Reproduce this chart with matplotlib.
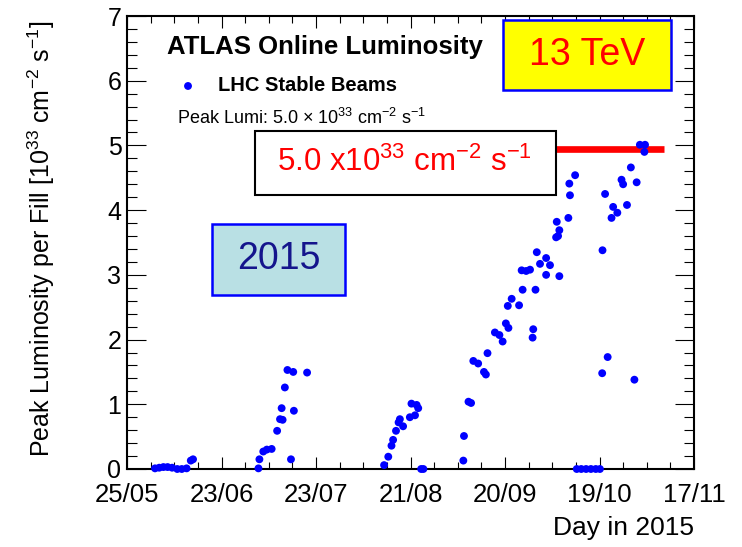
import matplotlib
matplotlib.use("Agg")
import matplotlib.pyplot as plt
from matplotlib.patches import Rectangle
import numpy as np

# days since 25/05/2015 and peak luminosity of each fill [10^33 cm^-2 s^-1]
fill_day = [8.7, 10.0, 11.3, 12.6, 14.0, 15.6, 17.0, 18.5, 19.8, 20.5,
            40.8, 41.1, 42.3, 43.4, 44.9, 46.6, 47.5, 48.3, 48.0, 49.0,
            49.8, 50.9, 51.6, 51.8, 55.9,
            79.8, 81.1, 82.1, 82.6, 83.5, 84.3, 84.7, 85.7, 87.8, 88.3,
            89.4, 89.9, 90.4, 91.3, 92.0,
            104.4, 104.6, 106.0, 106.8, 107.5, 109.0, 110.8, 111.4, 111.9, 114.2,
            115.6, 116.6, 117.6, 118.4, 118.2, 119.4, 121.7, 122.8, 122.5, 123.9,
            125.1, 125.9, 126.1, 126.8, 127.2, 128.2, 130.1, 130.1, 131.3, 133.2,
            133.4, 134.2, 133.8, 134.2, 137.0, 137.3, 137.5, 139.1,
            139.6, 141.0, 142.5, 144.0, 145.5, 146.8,
            147.5, 147.6, 148.4, 149.2, 150.4, 150.9, 152.2, 153.5, 154.0, 155.2,
            156.4, 157.5, 158.2, 159.2, 160.6, 160.8]
peak_lumi = [0.01, 0.02, 0.03, 0.03, 0.02, 0.0, 0.0, 0.01, 0.13, 0.15,
             0.01, 0.15, 0.27, 0.30, 0.31, 0.59, 0.77, 0.76, 0.94, 1.26,
             1.53, 0.15, 1.50, 0.90, 1.49,
             0.06, 0.19, 0.36, 0.45, 0.59, 0.72, 0.77, 0.66, 0.80, 1.01,
             0.83, 0.99, 0.94, 0.0, 0.0,
             0.13, 0.51, 1.04, 1.02, 1.67, 1.63, 1.50, 1.46, 1.79, 2.11,
             2.07, 1.97, 2.25, 2.18, 2.52, 2.63, 2.53, 2.77, 3.07, 3.06,
             3.08, 2.03, 2.16, 2.77, 3.35, 3.17, 3.26, 3.00, 3.15, 3.58,
             3.82, 3.69, 3.60, 2.98, 3.88, 4.41, 4.23, 4.54,
             0.0, 0.0, 0.0, 0.0, 0.0, 0.0,
             1.48, 3.38, 4.25, 1.73, 3.88, 4.05, 3.96, 4.47, 4.40, 4.08,
             4.66, 1.38, 4.43, 5.01, 4.90, 5.01]

# x axis: 25/05 -> 17/11 (176 days), 6 divisions
x_range = [0, 176]
tick_labels = ["25/05", "23/06", "23/07", "21/08", "20/09", "19/10", "17/11"]
peak_level = 4.95
peak_span = [131.5, 166.7]

plt.rcParams['font.family'] = ['Liberation Sans', 'DejaVu Sans']
plt.rcParams['mathtext.fontset'] = 'custom'
plt.rcParams['mathtext.rm'] = 'Liberation Sans'
plt.rcParams['mathtext.it'] = 'Liberation Sans:italic'
plt.rcParams['mathtext.bf'] = 'Liberation Sans:bold'

fig = plt.figure(figsize=(7.42, 5.47), dpi=100)
ax = fig.add_axes([127/742, 1 - 469/547, 567/742, 453/547])

# the fills
ax.scatter(fill_day, peak_lumi, s=32, color='#0000ff', edgecolors='none', zorder=3, clip_on=False)

# red line at the peak value
ax.plot(peak_span, [peak_level, peak_level], color='#ff0000', lw=4.8, solid_capstyle='butt', zorder=2)

ax.set_xlim(x_range)
ax.set_ylim(0, 7)
ax.set_xticks(np.linspace(x_range[0], x_range[1], len(tick_labels)))
ax.set_xticklabels(tick_labels)
ax.set_xticks(np.linspace(x_range[0], x_range[1], 4 * (len(tick_labels) - 1) + 1), minor=True)
ax.set_yticks(np.arange(0, 8, 1))
ax.set_yticks(np.arange(0, 7.01, 0.2), minor=True)

# ROOT style ticks, inside on all four sides
ax.tick_params(axis='both', which='both', direction='in', top=True, right=True, width=0.8, colors='black')
ax.tick_params(axis='x', which='major', length=8.5, labelsize=18.5, pad=10)
ax.tick_params(axis='x', which='minor', length=5)
ax.tick_params(axis='y', which='major', length=14, labelsize=18, pad=4)
ax.tick_params(axis='y', which='minor', length=7)
for s in ax.spines.values():
    s.set_linewidth(1.5)

ax.set_ylabel('Peak Luminosity per Fill [10$^{33}$ cm$^{-2}$ s$^{-1}$]', fontsize=18, va='center')
ax.yaxis.set_label_coords(-0.152, 0.5077)
ax.set_xlabel('Day in 2015', fontsize=19, ha='right', va='center')
ax.xaxis.set_label_coords(1.0, -0.13)

# legend block
ax.text(0.07, 0.931, 'ATLAS Online Luminosity', transform=ax.transAxes, fontsize=18.5,
        fontweight='bold', ha='left', va='center')
ax.scatter([0.1076], [0.8455], s=32, color='#0000ff', edgecolors='none', transform=ax.transAxes)
ax.text(0.1605, 0.8455, 'LHC Stable Beams', transform=ax.transAxes, fontsize=14.5,
        fontweight='bold', ha='left', va='center')
ax.text(0.0877, 0.775, r'Peak Lumi: 5.0 $\times$ 10$^{33}$ cm$^{-2}$ s$^{-1}$', transform=ax.transAxes,
        fontsize=13, ha='left', va='center')

# white box with the peak value
ax.add_patch(Rectangle((0.2257, 0.6049), 0.5309, 0.1411, transform=ax.transAxes,
                       facecolor='white', edgecolor='black', lw=1.5, zorder=4))
ax.text(0.2646, 0.6777, '5.0 x10$^{33}$ cm$^{-2}$ s$^{-1}$', transform=ax.transAxes,
        fontsize=22.5, color='#ff0000', ha='left', va='center', zorder=5)

# 13 TeV box
ax.add_patch(Rectangle((0.6631, 0.8366), 0.2963, 0.1546, transform=ax.transAxes,
                       facecolor='#ffff00', edgecolor='#0000ff', lw=1.8, zorder=4))
ax.text(0.8113, 0.9139, '13 TeV', transform=ax.transAxes, fontsize=27,
        color='#ff0000', ha='center', va='center', zorder=5)

# 2015 box
ax.add_patch(Rectangle((0.1499, 0.3841), 0.2346, 0.1567, transform=ax.transAxes,
                       facecolor='#b9e0e4', edgecolor='#0000ff', lw=1.8, zorder=4))
ax.text(0.2672, 0.4625, '2015', transform=ax.transAxes, fontsize=27,
        color='#15158c', ha='center', va='center', zorder=5)

fig.savefig('out.png', dpi=100)
